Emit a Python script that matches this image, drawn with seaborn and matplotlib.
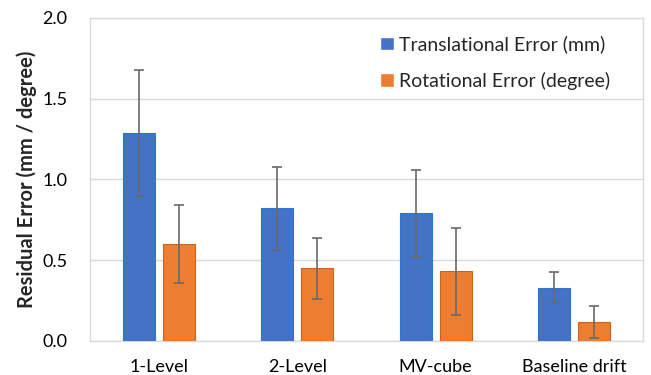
import pandas as pd
import numpy as np
import matplotlib
matplotlib.use("Agg")
import matplotlib.pyplot as plt
import seaborn as sns

categories = ["1-Level", "2-Level", "MV-cube", "Baseline drift"]
series = ["Translational Error (mm)", "Rotational Error (degree)"]
trans_mean = [1.29, 0.82, 0.79, 0.33]
trans_err = [0.39, 0.26, 0.27, 0.095]
rot_mean = [0.60, 0.45, 0.43, 0.115]
rot_err = [0.24, 0.19, 0.27, 0.10]

df = pd.DataFrame({
    "Method": categories * 2,
    "Series": [series[0]] * 4 + [series[1]] * 4,
    "Value": trans_mean + rot_mean,
    "Err": trans_err + rot_err,
})

sns.set_theme(style="white")
plt.rcParams["font.family"] = ["Lato", "DejaVu Sans"]

colors = ["#4472C4", "#ED7D31"]
edges = ["#2E75D0", "#C8651F"]

fig = plt.figure(figsize=(6.51, 3.75), dpi=100)
ax = fig.add_axes([0.138, 0.091, 0.850, 0.861])

sns.barplot(data=df, x="Method", y="Value", hue="Series", palette=colors,
            saturation=1, width=0.58, gap=0.2, errorbar=None, ax=ax, zorder=3)

# outline + error bars per series
bar_groups = list(ax.containers)
for i, container in enumerate(bar_groups):
    sub = df[df["Series"] == series[i]]
    xs = []
    for patch in container:
        patch.set_edgecolor(edges[i])
        patch.set_linewidth(0.8)
        xs.append(patch.get_x() + patch.get_width() / 2)
    ax.errorbar(xs, sub["Value"].values, yerr=sub["Err"].values, fmt="none",
                ecolor="#6A6A6A", elinewidth=1.2, capsize=3.5, capthick=1.2,
                zorder=4)

ax.set_ylim(0, 2.0)
ax.set_xlim(-0.5, 3.5)
ax.set_yticks([0.0, 0.5, 1.0, 1.5, 2.0])
ax.set_yticklabels([f"{v:.1f}" for v in [0.0, 0.5, 1.0, 1.5, 2.0]])
ax.yaxis.grid(True, color="#D9D9D9", linewidth=1.0, zorder=0)
ax.tick_params(axis="both", length=0, labelsize=13, colors="#000000")
ax.tick_params(axis="x", pad=13)
ax.tick_params(axis="y", pad=16)
for s in ax.spines.values():
    s.set_color("#D9D9D9")
    s.set_linewidth(1.0)

ax.set_xlabel("")
ax.set_ylabel("Residual Error (mm / degree)", fontsize=14.5, fontweight="bold", labelpad=4)

leg = ax.legend(loc="upper right", frameon=False, fontsize=14,
                handlelength=0.7, handleheight=0.7, handletextpad=0.3,
                labelspacing=0.95, borderaxespad=0, bbox_to_anchor=(0.955, 0.97))

fig.savefig("out.png", dpi=100)
